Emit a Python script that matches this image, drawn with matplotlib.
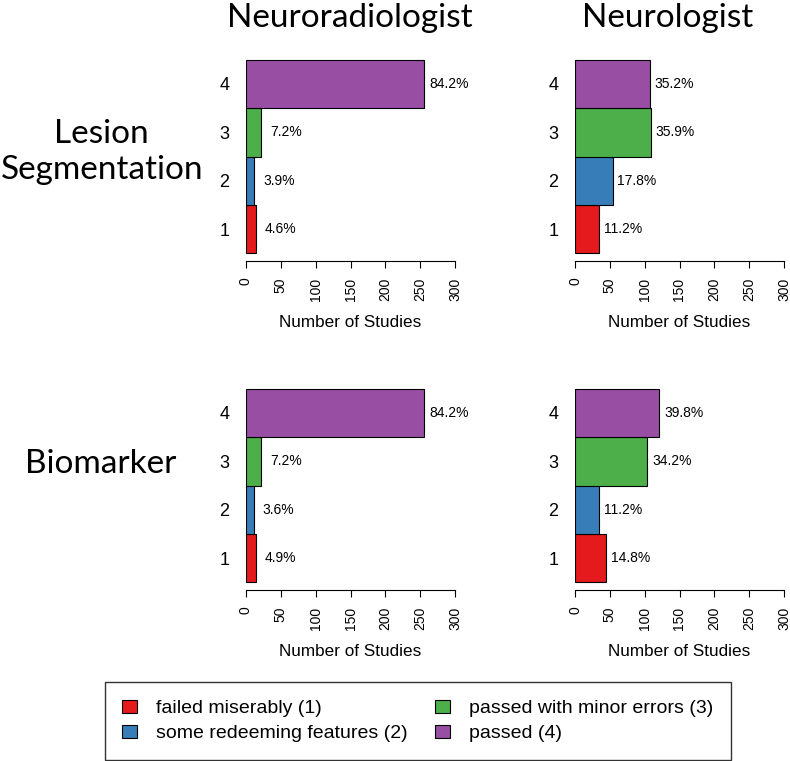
import matplotlib.pyplot as plt
from matplotlib.patches import Patch

# Data: number of studies per rating (out of 304)
ratings = [1, 2, 3, 4]
rating_labels = ["failed miserably (1)", "some redeeming features (2)",
                 "passed with minor errors (3)", "passed (4)"]
colors = ["#E41A1C", "#377EB8", "#4DAF4A", "#984EA3"]

lesion_neurorad = [14, 12, 22, 256]
lesion_neurol = [34, 54, 109, 107]
biomarker_neurorad = [15, 11, 22, 256]
biomarker_neurol = [45, 34, 104, 121]

col_titles = ["Neuroradiologist", "Neurologist"]
x_ticks = [0, 50, 100, 150, 200, 250, 300]

plt.rcParams['font.family'] = ['Liberation Sans', 'DejaVu Sans']
title_font = 'Lato'

W, H = 790, 761
fig = plt.figure(figsize=(W / 100, H / 100), dpi=100)


def px_axes(left, top, width, height):
    return fig.add_axes([left / W, 1 - (top + height) / H, width / W, height / H])


def label(x, y, s, **kw):
    # place a figure text using pixel coordinates (y from top)
    fig.text(x / W, 1 - y / H, s, **kw)


def panel(ax, counts):
    total = sum(counts)
    ax.barh(ratings, counts, height=1.0, color=colors, edgecolor='black', linewidth=0.8)
    for r, c in zip(ratings, counts):
        ax.text(c + 35, r, f"{100 * c / total:.1f}%", ha='center', va='center',
                fontsize=10, clip_on=False)
    ax.set_xlim(0, 300)
    ax.set_ylim(0.34, 4.66)
    for s in ['top', 'right', 'left']:
        ax.spines[s].set_visible(False)
    ax.spines['bottom'].set_bounds(0, 300)
    ax.set_xticks(x_ticks)
    ax.set_xticklabels([str(t) for t in x_ticks], rotation=90, fontsize=10)
    ax.tick_params(axis='x', length=5, width=0.8, pad=7)
    ax.set_yticks(ratings)
    ax.set_yticklabels([str(r) for r in ratings], fontsize=13)
    ax.tick_params(axis='y', length=0, pad=12)
    ax.set_xlabel("Number of Studies", fontsize=12.3, labelpad=10)


data = [[lesion_neurorad, lesion_neurol], [biomarker_neurorad, biomarker_neurol]]
lefts = [246, 575]
tops = [52, 381]
for i in range(2):
    for j in range(2):
        ax = px_axes(lefts[j], tops[i], 209, 209)
        panel(ax, data[i][j])

big = dict(ha='center', va='baseline', fontsize=24, family=title_font)
label(350, 27, col_titles[0], **big)
label(668, 27, col_titles[1], **big)
label(101, 143, "Lesion", **big)
label(102, 179, "Segmentation", **big)
label(101, 473, "Biomarker", **big)

handles = [Patch(facecolor=c, edgecolor='black', linewidth=0.8) for c in colors]
leg = fig.legend(handles, rating_labels, ncol=2, loc='center',
                 bbox_to_anchor=(418 / W, 1 - 721 / H), fontsize=14,
                 frameon=True, fancybox=False, edgecolor='black',
                 handlelength=0.75, handleheight=0.65, handletextpad=1.0,
                 columnspacing=1.4, borderpad=0.9, labelspacing=0.4)
leg.get_frame().set_linewidth(1.0)

fig.savefig("out.png", dpi=100)
